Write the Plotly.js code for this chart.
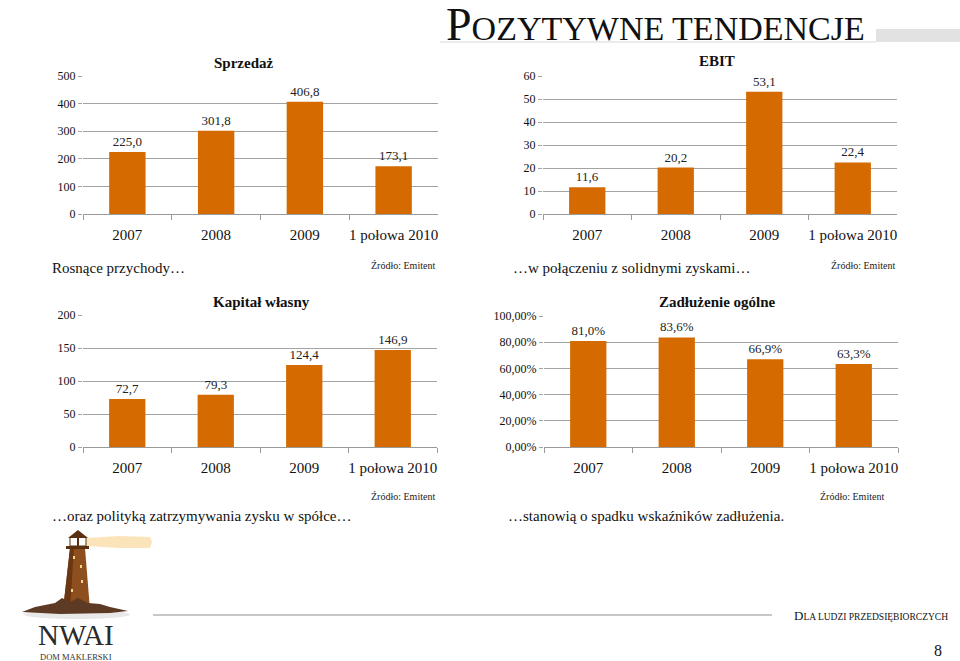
<!DOCTYPE html>
<html>
<head>
<meta charset="utf-8">
<script src="https://cdn.plot.ly/plotly-3.0.1.min.js"></script>
<style>html,body{margin:0;padding:0;background:#fff;}#chart{width:960px;height:661px;}</style>
</head>
<body>
<div id="chart"></div>
<script>
// ---- data ----
const categories = ['2007', '2008', '2009', '1 połowa 2010'];
const sprzedaz = [225.0, 301.8, 406.8, 173.1];
const ebit = [11.6, 20.2, 53.1, 22.4];
const kapitalWlasny = [72.7, 79.3, 124.4, 146.9];
const zadluzenieOgolne = [0.810, 0.836, 0.669, 0.633];

const chartTitles = ['Sprzedaż', 'EBIT', 'Kapitał własny', 'Zadłużenie ogólne'];
const captions = ['Rosnące przychody…', '…w połączeniu z solidnymi zyskami…',
                  '…oraz polityką zatrzymywania zysku w spółce…', '…stanowią o spadku wskaźników zadłużenia.'];
const sourceText = 'Źródło: Emitent';
const pageTitle = 'POZYTYWNE TENDENCJE';
const footerText = 'DLA LUDZI PRZEDSIĘBIORCZYCH';
const pageNumber = '8';

// ---- helpers ----
const W = 960, H = 661;
const BAR = '#D46A00';
const SERIF = 'Liberation Serif';
const px = x => x / W;
const py = y => 1 - y / H;

function xAxis(x0, x1, anchor) {
  return {
    domain: [px(x0), px(x1)], anchor: anchor, type: 'category',
    showline: true, linecolor: '#9a9a9a', linewidth: 1,
    ticks: 'outside', tickson: 'boundaries', ticklen: 5, tickcolor: '#9a9a9a',
    showgrid: false, tickangle: 0, tickfont: {family: SERIF, size: 15, color: '#111'},
    ticklabelstandoff: 7, fixedrange: true
  };
}
function yAxis(y0, y1, anchor, max, dtick, fmt) {
  return {
    domain: [py(y0), py(y1)], anchor: anchor, range: [0, max], dtick: dtick,
    tickformat: fmt || '', showline: false, zeroline: false,
    showgrid: true, gridcolor: '#a3a3a3', gridwidth: 1,
    ticks: 'outside', ticklen: 4, tickcolor: '#a3a3a3',
    tickfont: {family: SERIF, size: 12, color: '#111'}, fixedrange: true
  };
}
function barTrace(vals, xa, ya, tmpl) {
  return {
    type: 'bar', x: categories, y: vals, xaxis: xa, yaxis: ya,
    marker: {color: BAR}, texttemplate: tmpl, textposition: 'outside',
    textfont: {family: SERIF, size: 13, color: '#222'}, cliponaxis: false,
    hoverinfo: 'skip'
  };
}

const data = [
  barTrace(sprzedaz, 'x', 'y', '%{y:.1f}'),
  barTrace(ebit, 'x2', 'y2', '%{y:.1f}'),
  barTrace(kapitalWlasny, 'x3', 'y3', '%{y:.1f}'),
  barTrace(zadluzenieOgolne, 'x4', 'y4', '%{y:.1%}')
];

function ann(text, x, y, opts) {
  return Object.assign({text: text, x: px(x), y: py(y), xref: 'paper', yref: 'paper',
    showarrow: false, xanchor: 'center', yanchor: 'middle'}, opts || {});
}
const annotations = [
  ann('<b>' + chartTitles[0] + '</b>', 244, 63, {font: {family: SERIF, size: 15, color: '#111'}}),
  ann('<b>' + chartTitles[1] + '</b>', 717, 61, {font: {family: SERIF, size: 15, color: '#111'}}),
  ann('<b>' + chartTitles[2] + '</b>', 261, 302, {font: {family: SERIF, size: 15, color: '#111'}}),
  ann('<b>' + chartTitles[3] + '</b>', 717, 302, {font: {family: SERIF, size: 15, color: '#111'}}),
  ann(captions[0], 50, 268, {xanchor: 'left', font: {family: SERIF, size: 15, color: '#111'}}),
  ann(captions[1], 511, 268, {xanchor: 'left', font: {family: SERIF, size: 15, color: '#111'}}),
  ann(captions[2], 50, 516, {xanchor: 'left', font: {family: SERIF, size: 15, color: '#111'}}),
  ann(captions[3], 506, 516, {xanchor: 'left', font: {family: SERIF, size: 15, color: '#111'}}),
  ann(sourceText, 437, 266, {xanchor: 'right', font: {family: SERIF, size: 10, color: '#222'}}),
  ann(sourceText, 897, 266, {xanchor: 'right', font: {family: SERIF, size: 10, color: '#222'}}),
  ann(sourceText, 437, 496, {xanchor: 'right', font: {family: SERIF, size: 10, color: '#222'}}),
  ann(sourceText, 886, 496, {xanchor: 'right', font: {family: SERIF, size: 10, color: '#222'}}),
  ann('<span style="font-size:46px">' + pageTitle[0] + '</span>' + pageTitle.slice(1), 444, 24,
      {xanchor: 'left', font: {family: SERIF, size: 34, color: '#111'}}),
  ann('<span style="font-size:13px">' + footerText[0] + '</span>' + footerText.slice(1), 950, 615,
      {xanchor: 'right', font: {family: SERIF, size: 9.5, color: '#111'}}),
  ann(pageNumber, 938, 650, {font: {family: SERIF, size: 16, color: '#111'}}),
  ann('NWAI', 76, 635, {font: {family: SERIF, size: 29, color: '#2a2a2a'}}),
  ann('DOM MAKLERSKI', 76, 657, {font: {family: SERIF, size: 8.5, color: '#333'}})
];

function poly(pts, fill, line) {
  const d = 'M ' + pts.map(p => px(p[0]) + ',' + py(p[1])).join(' L ') + ' Z';
  return {type: 'path', xref: 'paper', yref: 'paper', path: d, fillcolor: fill,
          line: line || {width: 0}};
}
function rect(x0, y0, x1, y1, fill, line) {
  return {type: 'rect', xref: 'paper', yref: 'paper', x0: px(x0), x1: px(x1), y0: py(y1), y1: py(y0),
          fillcolor: fill, line: line || {width: 0}};
}
function hline(x0, x1, y, color, w) {
  return {type: 'line', xref: 'paper', yref: 'paper', x0: px(x0), x1: px(x1), y0: py(y), y1: py(y),
          line: {color: color, width: w}};
}

const shapes = [
  hline(440, 876, 42, '#ececec', 2),
  rect(876, 29, 960, 42, '#e2e2e2'),
  hline(153, 772, 615, '#c8c8c8', 2),
  {type: 'circle', xref: 'paper', yref: 'paper', x0: px(24), x1: px(130), y0: py(619), y1: py(610),
   fillcolor: '#e8e8e8', line: {width: 0}},
  poly([[86, 538], [120, 536], [150, 537], [152, 542], [150, 548], [120, 548], [86, 546]], 'rgba(247,205,130,0.55)'),
  poly([[70, 548], [85, 548], [90, 610], [63, 610]], '#8e4f1e'),
  poly([[70, 548], [74, 548], [70, 610], [63, 610]], '#6a3712'),
  rect(66, 546, 89, 549, '#5a3010'),
  rect(70, 537, 86, 546, '#ffffff', {color: '#5a3010', width: 1}),
  rect(77, 537, 79, 546, '#5a3010'),
  poly([[68, 538], [78, 530], [88, 538]], '#5a3010'),
  rect(73, 556, 75, 559, '#f4d58a'),
  rect(80, 565, 82, 568, '#f4d58a'),
  rect(81, 580, 83, 583, '#f4d58a'),
  rect(71, 589, 73, 592, '#f4d58a'),
  poly([[22, 612], [35, 607], [45, 605], [55, 603], [62, 598], [70, 602], [78, 598], [88, 603],
        [100, 604], [110, 607], [128, 611], [110, 613], [60, 614]], '#5c3a24')
];

const layout = {
  width: W, height: H, margin: {l: 0, r: 0, t: 0, b: 0},
  paper_bgcolor: '#fff', plot_bgcolor: 'rgba(0,0,0,0)',
  showlegend: false, bargap: 0.59, separators: ', ',
  font: {family: SERIF},
  xaxis: xAxis(83, 438, 'y'), yaxis: yAxis(214, 76, 'x', 500, 100),
  xaxis2: xAxis(543, 897, 'y2'), yaxis2: yAxis(214, 76, 'x2', 60, 10),
  xaxis3: xAxis(83, 437, 'y3'), yaxis3: yAxis(447, 315, 'x3', 200, 50),
  xaxis4: xAxis(544, 898, 'y4'), yaxis4: yAxis(447, 316, 'x4', 1, 0.2, '.2%'),
  annotations: annotations, shapes: shapes
};

Plotly.newPlot('chart', data, layout, {displayModeBar: false, staticPlot: true});
</script>
</body>
</html>
